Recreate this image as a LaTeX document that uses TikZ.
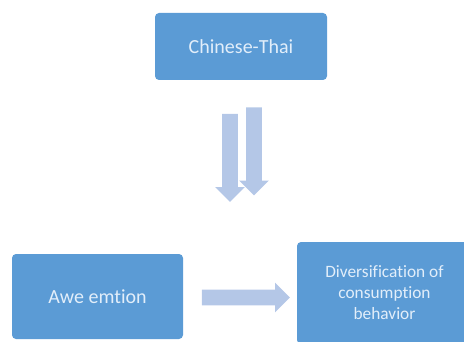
\documentclass[tikz,border=0pt]{standalone}
\usepackage{fontspec}
\setmainfont[Ligatures=NoCommon]{Carlito}
\usetikzlibrary{shapes.arrows}
\definecolor{boxblue}{HTML}{5B9BD5}
\definecolor{arrowblue}{HTML}{B4C7E7}
\definecolor{boxtext}{HTML}{E2EEFA}
\tikzset{
  factor/.style={fill=boxblue, rounded corners=3pt, text=boxtext, align=center, inner sep=0pt},
  blockarrow/.style={single arrow, fill=arrowblue, inner xsep=0pt, inner ysep=5.625pt,
    minimum height=66pt, single arrow head extend=5.25pt}
}
\begin{document}
\begin{tikzpicture}[x=0.75pt,y=-0.75pt]
\useasboundingbox (0,0) rectangle (464,342);
\clip (0,0) rectangle (464,342);
% Factors
\node[factor, minimum width=129pt, minimum height=50.25pt, font=\fontsize{15}{18}\selectfont] (chinese) at (241,46.5) {Chinese-Thai};
\node[factor, minimum width=128.25pt, minimum height=63.75pt, font=\fontsize{15}{18}\selectfont] (awe) at (97.5,296.5) {Awe emtion};
\node[factor, minimum width=131.25pt, minimum height=76.5pt, font=\fontsize{13}{15.75}\selectfont] (diverse) at (384.5,293) {Diversification of\\consumption\\behavior};
% Arrows
\node[blockarrow, rotate=-90] (downleft) at (230,154) {};
\node[blockarrow, rotate=-90] (downright) at (254,147.5) {};
\node[blockarrow] (across) at (242,297.5) {};
\end{tikzpicture}
\end{document}
